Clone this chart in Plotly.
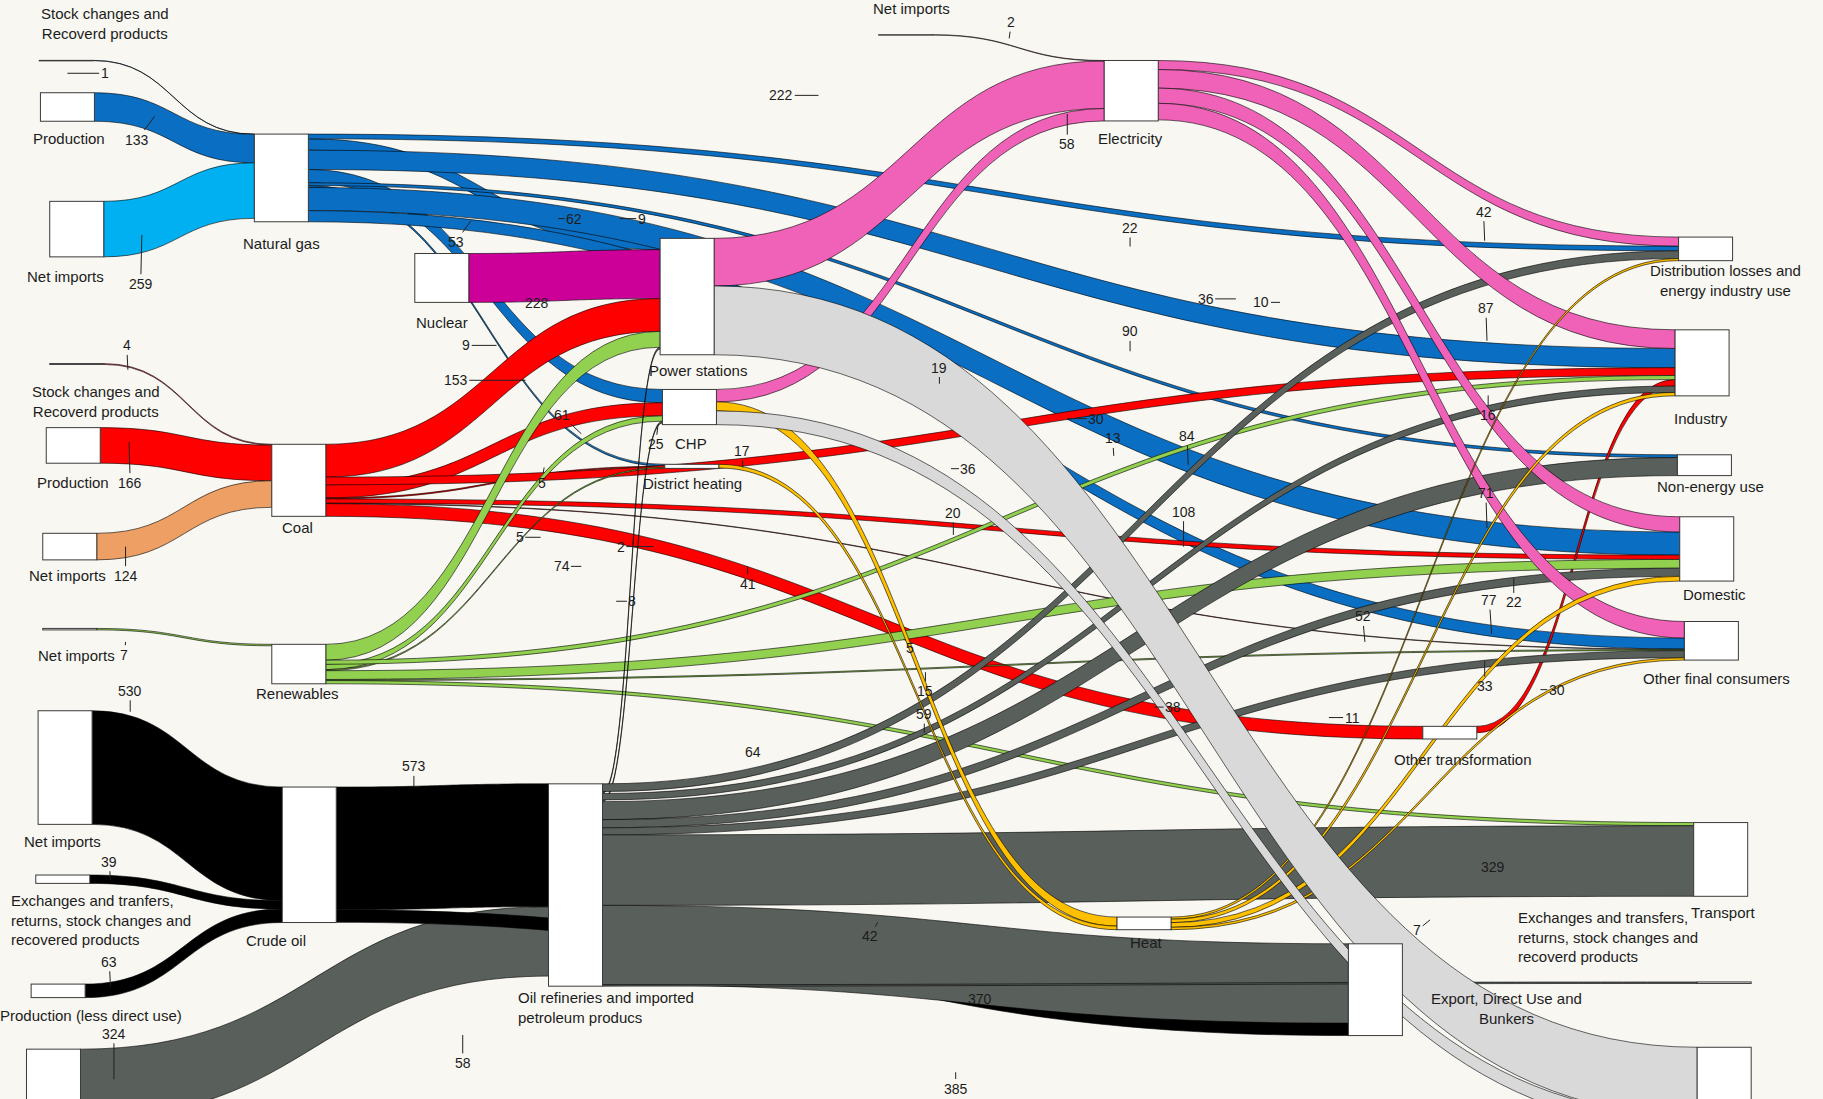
import plotly.graph_objects as go

W, H = 1823, 1099
REF_W, REF_H = 1568, 945
FONT = "Liberation Sans, Arial, sans-serif"
BG = "#f8f7f2"

# ---------------- data ----------------
node_names = [
    "Stock changes and Recoverd products (gas)", "Production (gas)", "Net imports (gas)", "Natural gas",
    "Nuclear",
    "Stock changes and Recoverd products (coal)", "Production (coal)", "Net imports (coal)", "Coal",
    "Net imports (renewables)", "Renewables",
    "Net imports (crude oil)", "Exchanges and tranfers, returns, stock changes and recovered products",
    "Production (less direct use)", "Imported petroleum products", "Crude oil",
    "Oil refineries and imported petroleum producs",
    "Power stations", "CHP", "District heating",
    "Net imports (electricity)", "Electricity", "Heat", "Other transformation",
    "Distribution losses and energy industry use", "Industry", "Non-energy use", "Domestic",
    "Other final consumers", "Transport",
    "Exchanges and transfers, returns, stock changes and recoverd products",
    "Export, Direct Use and Bunkers", "Conversion losses",
]

link_source = [0, 1, 2,
               3, 3, 3, 3, 3, 3, 3, 3,
               4,
               5, 6, 7,
               8, 8, 8, 8, 8, 8, 8,
               23,
               9, 10, 10, 10, 10, 10, 10, 10,
               11, 12, 13, 14, 15, 15,
               16, 16, 16, 16, 16, 16, 16, 16, 16, 16,
               17, 18, 20,
               21, 21, 21, 21,
               18, 19, 22, 22, 22, 22,
               17, 18]
link_target = [3, 3, 3,
               17, 18, 19, 24, 25, 26, 27, 28,
               17,
               8, 8, 8,
               17, 18, 19, 25, 27, 28, 23,
               25,
               10, 17, 18, 19, 27, 25, 29, 28,
               15, 15, 15, 16, 16, 31,
               17, 18, 24, 25, 26, 27, 28, 29, 31, 30,
               21, 21, 21,
               24, 25, 27, 28,
               22, 22, 24, 25, 27, 28,
               32, 32]
link_value = [1, 133, 259,
              53, 62, 9, 22, 90, 13, 108, 52,
              228,
              4, 166, 124,
              153, 61, 5, 36, 20, 2, 59,
              30,
              7, 74, 25, 5, 41, 19, 15, 5,
              530, 39, 63, 324, 573, 58,
              9, 8, 36, 30, 84, 38, 33, 329, 370, 7,
              222, 58, 2,
              42, 87, 71, 77,
              42, 17, 10, 16, 22, 11,
              321, 64]
link_kind = ["gas", "gas", "gas_imp",
             "gas", "gas", "gas", "gas", "gas", "gas", "gas", "gas",
             "nuclear",
             "coal_thin", "coal", "coal_imp",
             "coal", "coal", "coal", "coal", "coal", "coal_thin", "coal",
             "coal",
             "ren", "ren", "ren", "ren", "ren", "ren", "ren", "ren",
             "crude", "crude", "crude", "oil", "crude", "crude",
             "oil", "oil", "oil", "oil", "oil", "oil", "oil", "oil", "oil", "oil",
             "elec", "elec", "elec_thin",
             "elec", "elec", "elec", "elec",
             "heat", "heat", "heat", "heat", "heat", "heat",
             "loss", "loss"]

# ---------------- styles / layout ----------------
kind_color = {
    "gas": "#0a6fc2", "gas_imp": "#00b0f0", "nuclear": "#cc0099",
    "coal": "#ff0000", "coal_thin": "#ff6f80", "coal_imp": "#eea064",
    "ren": "#92d050", "crude": "#000000", "oil": "#595f5b",
    "elec": "#f062b8", "elec_thin": "#f4b4cc", "heat": "#ffc000", "loss": "#d9d9d9",
}
link_colors = [kind_color[k] for k in link_kind]

# node centres in reference pixel coordinates
node_px = [57, 58, 66, 242, 380, 66, 63, 60, 257, 60, 257, 56, 54, 50, 46, 266, 495,
           591, 593, 595, 779, 973, 984, 1247, 1467, 1464, 1466, 1468, 1472, 1480, 1483, 1183, 1483]
node_py = [52, 92, 197, 153, 239, 313, 383, 470, 413, 541, 571, 660, 756, 852, 932, 735, 761,
           255, 350, 401, 30, 78, 794, 630, 214, 312, 400, 472, 551, 739, 845, 851, 936]

fig = go.Figure(go.Sankey(
    arrangement="fixed",
    node=dict(
        label=node_names,
        x=[v / REF_W for v in node_px],
        y=[v / REF_H for v in node_py],
        pad=58,
        thickness=54,
        color="white",
        line=dict(color="#3a3a3a", width=1),
        hovertemplate="%{label}: %{value}<extra></extra>",
    ),
    link=dict(
        source=link_source, target=link_target, value=link_value,
        color=link_colors,
        line=dict(color=link_colors, width=0.6),
        hovertemplate="%{source.label} → %{target.label}: %{value}<extra></extra>",
    ),
    textfont=dict(color="rgba(0,0,0,0)", size=1),
))

# node captions: text, x, y (reference px, text centre), anchor
node_captions = [
    ("Stock changes and<br>Recoverd products", 90, 20, "center"),
    ("Production", 59, 119, "center"),
    ("Net imports", 56, 238, "center"),
    ("Natural gas", 242, 209, "center"),
    ("Nuclear", 380, 277, "center"),
    ("Stock changes and<br>Recoverd products", 83, 345, "center"),
    ("Production", 63, 415, "center"),
    ("Net imports", 58, 495, "center"),
    ("Coal", 256, 454, "center"),
    ("Net imports", 66, 564, "center"),
    ("Renewables", 256, 596, "center"),
    ("Net imports", 54, 724, "center"),
    ("Exchanges and tranfers,<br>returns, stock changes and<br>recovered products", 8, 791, "left"),
    ("Production (less direct use)", 78, 873, "center"),
    ("Crude oil", 237, 809, "center"),
    ("Oil refineries and imported<br>petroleum producs", 444, 866, "left"),
    ("Power stations", 600, 319, "center"),
    ("CHP", 594, 381, "center"),
    ("District heating", 596, 416, "center"),
    ("Net imports", 784, 7, "center"),
    ("Electricity", 972, 119, "center"),
    ("Heat", 986, 810, "center"),
    ("Other transformation", 1258, 653, "center"),
    ("Distribution losses and<br>energy industry use", 1484, 241, "center"),
    ("Industry", 1463, 360, "center"),
    ("Non-energy use", 1471, 418, "center"),
    ("Domestic", 1475, 511, "center"),
    ("Other final consumers", 1476, 583, "center"),
    ("Transport", 1482, 785, "center"),
    ("Exchanges and transfers,<br>returns, stock changes and<br>recoverd products", 1304, 806, "left"),
    ("Export, Direct Use and<br>Bunkers", 1296, 867, "center"),
]

# value labels: text, leader point x, y (None = no leader), text centre x, y (reference px)
value_labels = [
    ("1", 58, 63, 90, 63), ("133", 133, 100, 118, 120), ("259", 122, 202, 121, 244),
    ("53", 405, 190, 392, 208), ("62", 480, 188, 494, 188), ("9", 533, 188, 552, 188),
    ("228", None, None, 450, 252),
    ("22", 972, 212, 972, 196), ("90", 972, 302, 972, 285), ("13", 958, 392, 957, 377),
    ("108", 1018, 470, 1018, 440), ("52", 1174, 552, 1172, 530),
    ("4", 110, 318, 109, 297), ("166", 111, 380, 112, 415), ("124", 108, 470, 108, 495),
    ("153", 452, 327, 392, 327), ("61", 500, 373, 483, 357), ("5", 468, 402, 466, 415),
    ("36", 818, 403, 833, 403), ("20", 820, 460, 820, 441), ("2", 562, 470, 534, 470),
    ("59", 795, 630, 795, 614), ("30", 1325, 593, 1339, 593), ("9", 427, 297, 401, 297),
    ("7", 108, 552, 107, 563), ("74", 500, 487, 483, 487), ("25", 566, 365, 564, 382),
    ("5", 465, 462, 447, 462), ("41", 643, 487, 643, 502), ("19", 808, 330, 808, 316),
    ("15", 796, 578, 796, 594), ("5", None, None, 783, 557),
    ("530", 112, 612, 112, 594), ("39", 95, 757, 94, 741), ("63", 95, 848, 94, 827),
    ("324", 98, 928, 98, 889), ("573", 356, 677, 356, 659), ("58", 398, 890, 398, 914),
    ("8", 530, 517, 544, 517), ("42", 755, 793, 748, 805), ("329", None, None, 1296, 754),
    ("370", None, None, 843, 868), ("7", 1230, 791, 1219, 800),
    ("36", 1063, 257, 1037, 257), ("10", 1101, 260, 1085, 260), ("30", 918, 360, 943, 360),
    ("84", 1022, 400, 1021, 375), ("38", 993, 608, 1009, 608), ("33", 1277, 568, 1277, 590),
    ("11", 1143, 617, 1163, 617),
    ("222", 704, 82, 672, 82), ("2", 868, 33, 870, 19), ("58", 918, 98, 918, 124),
    ("42", 1277, 207, 1276, 182), ("87", 1279, 293, 1278, 265), ("71", 1279, 454, 1278, 424),
    ("77", 1283, 545, 1281, 516),
    ("17", 639, 402, 638, 388), ("16", 1280, 340, 1280, 357), ("22", 1302, 497, 1302, 518),
    ("64", None, None, 648, 655), ("385", 822, 922, 822, 936),
]

S = W / REF_W
annotations = []
for text, x, y, anchor in node_captions:
    annotations.append(dict(
        text=text, x=x / REF_W, y=1 - y / REF_H, xref="paper", yref="paper",
        xanchor=anchor, yanchor="middle", align=anchor, showarrow=False,
        font=dict(family=FONT, size=15, color="#1c1c1c")))
for text, px_, py_, tx, ty in value_labels:
    if px_ is None:
        annotations.append(dict(
            text=text, x=tx / REF_W, y=1 - ty / REF_H, xref="paper", yref="paper",
            showarrow=False, font=dict(family=FONT, size=14, color="#1c1c1c")))
    else:
        annotations.append(dict(
            text=text, x=px_ / REF_W, y=1 - py_ / REF_H, xref="paper", yref="paper",
            ax=(tx - px_) * S, ay=(ty - py_) * S, showarrow=True, arrowhead=0,
            arrowwidth=1, arrowcolor="#222222", standoff=0, startstandoff=0,
            font=dict(family=FONT, size=14, color="#1c1c1c")))

fig.update_layout(
    width=W, height=H,
    margin=dict(l=0, r=0, t=0, b=0),
    paper_bgcolor=BG, plot_bgcolor=BG,
    font=dict(family=FONT, size=14, color="#1c1c1c"),
    annotations=annotations,
)

fig.write_html(
    "out.html",
    config={"displayModeBar": False},
    post_script="document.body.style.margin='0';document.body.style.overflow='hidden';",
)
